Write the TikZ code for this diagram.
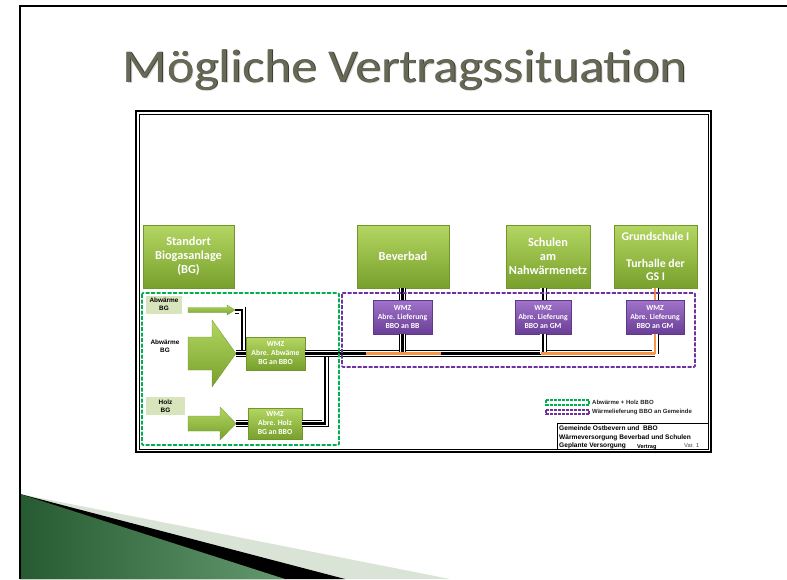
\documentclass[tikz,border=0pt]{standalone}
\usepackage{fontspec}
\setmainfont{Carlito}
\newfontfamily\arialfont{Liberation Sans}
\usetikzlibrary{shadows}

\definecolor{boxgreentop}{RGB}{180,214,98}
\definecolor{boxgreenbot}{RGB}{120,160,44}
\definecolor{boxgreenline}{RGB}{112,150,44}
\definecolor{boxpurpletop}{RGB}{160,116,202}
\definecolor{boxpurplebot}{RGB}{106,62,150}
\definecolor{boxpurpleline}{RGB}{96,56,138}
\definecolor{labelgreen}{RGB}{216,228,188}
\definecolor{dashgreen}{RGB}{0,176,80}
\definecolor{dashpurple}{RGB}{112,48,160}
\definecolor{pipeorange}{RGB}{247,150,70}
\definecolor{titlegray}{RGB}{104,104,86}
\definecolor{titleshade}{RGB}{60,60,48}
\definecolor{wedgedark}{RGB}{38,90,48}
\definecolor{wedgelight}{RGB}{100,152,110}
\definecolor{wedgepale}{RGB}{218,228,214}

\tikzset{
    site/.style={
        draw=boxgreenline, line width=0.4pt,
        top color=boxgreentop, bottom color=boxgreenbot,
        text=white, align=center, inner sep=1pt,
        font=\bfseries\fontsize{12.3}{14}\selectfont,
        drop shadow={opacity=0.2, shadow xshift=1pt, shadow yshift=-1pt}
    },
    wmzgreen/.style={
        site,
        font=\bfseries\fontsize{7.7}{9}\selectfont
    },
    wmzpurple/.style={
        wmzgreen,
        draw=boxpurpleline,
        top color=boxpurpletop, bottom color=boxpurplebot
    },
    sourcelabel/.style={
        fill=labelgreen, inner sep=0pt, align=center,
        font=\arialfont\bfseries\fontsize{6.4}{8}\selectfont
    },
    heat arrow/.style={
        draw=boxgreenline, line width=0.3pt,
        top color=boxgreentop, bottom color=boxgreenbot
    },
    pipe/.style={
        draw=black, line width=2.6pt,
        preaction={draw=black, line width=7pt},
        preaction={draw=white, line width=5.6pt}
    },
    pipe orange/.style={pipe, draw=pipeorange},
    pipecore/.style={draw=pipeorange, line width=2.6pt},
    groupbox/.style={line width=1.6pt, dash pattern=on 4pt off 1.5pt, rounded corners=1pt},
    legendbar/.style={line width=2pt, dash pattern=on 3pt off 1pt},
    legendtext/.style={anchor=west, inner sep=0pt, font=\arialfont\bfseries\fontsize{6}{7}\selectfont, text=black!85},
    blocktext/.style={anchor=base west, inner sep=0pt, font=\arialfont\bfseries\fontsize{6.6}{8}\selectfont},
    titletext/.style={anchor=base, xscale=1.1, font=\fontsize{47}{50}\selectfont}
}

\begin{document}
\begin{tikzpicture}[x=1pt, y=-1pt]
    \useasboundingbox (0,0) rectangle (787,579);

    % slide background
    \fill[wedgepale] (20,494) -- (450,579) -- (20,579) -- cycle;
    \fill[black] (20,494) -- (345,579) -- (20,579) -- cycle;
    \shade[left color=wedgedark, right color=wedgelight] (20,494) -- (285,579) -- (20,579) -- cycle;
    \draw[line width=1.6pt] (20,579) -- (20,6) -- (787,6);

    % title
    \node[titletext, text=black!15] at (406.5,83.5) {Mögliche Vertragssituation};
    \node[titletext, text=titleshade] at (405.8,82.8) {Mögliche Vertragssituation};
    \node[titletext, text=titlegray] (title) at (405,82) {Mögliche Vertragssituation};

    % drawing frame
    \draw[line width=1.2pt] (136,111) rectangle (711,452);
    \draw[line width=0.7pt] (139,114) rectangle (708,449);
    \draw[line width=0.7pt] (557,449) -- (557,423) -- (708,423);

    % sites
    \node[site, minimum width=91pt, minimum height=63pt] (bg) at (188.5,256.5) {Standort\\Biogasanlage\\(BG)};
    \node[site, minimum width=92pt, minimum height=63pt] (bb) at (403,256.5) {Beverbad};
    \node[site, minimum width=84pt, minimum height=63pt] (sn) at (548,256.5) {Schulen\\am\\Nahwärmenetz};
    \node[site, minimum width=83pt, minimum height=63pt, font=\bfseries\fontsize{11.8}{13.2}\selectfont] (gs) at (655.5,256.5) {Grundschule I\\[13.2pt]Turhalle der\\GS I};

    % heat sources
    \node[sourcelabel, minimum width=36pt, minimum height=18pt] (labw) at (164,304.5) {Abwärme\\BG};
    \node[sourcelabel, fill=none] (labw2) at (165,346.5) {Abwärme\\BG};
    \node[sourcelabel, minimum width=39pt, minimum height=18pt] (lholz) at (165.5,406) {Holz\\BG};

    \path[heat arrow] (188,307.5) -- (227,307.5) -- (227,305) -- (235,310) -- (227,315) -- (227,312.5) -- (188,312.5) -- cycle;
    \path[heat arrow] (188,337) -- (212,337) -- (212,320) -- (236,353.5) -- (212,387) -- (212,370) -- (188,370) -- cycle;
    \path[heat arrow] (188,416) -- (220,416) -- (220,407) -- (236,423.5) -- (220,440) -- (220,431) -- (188,431) -- cycle;
    \coordinate (tipthin) at (235,310);
    \coordinate (tipabw) at (236,353.5);
    \coordinate (tipholz) at (236,423.5);

    % meters
    \node[wmzgreen, minimum width=59pt, minimum height=33pt] (wmzabw) at (275.5,353.5) {WMZ\\Abre. Abwäme\\BG an BBO};
    \node[wmzgreen, minimum width=54pt, minimum height=31pt] (wmzholz) at (275,423.5) {WMZ\\Abre. Holz\\BG an BBO};
    \node[wmzpurple, minimum width=59pt, minimum height=34pt] (wmzbb) at (402.5,317) {WMZ\\Abre. Lieferung\\BBO an BB};
    \node[wmzpurple, minimum width=56pt, minimum height=34pt] (wmzsn) at (543,317) {WMZ\\Abre. Lieferung\\BBO an GM};
    \node[wmzpurple, minimum width=58pt, minimum height=34pt] (wmzgs) at (655,317) {WMZ\\Abre. Lieferung\\BBO an GM};

    \coordinate (jabw) at (242,353.5);
    \coordinate (jholz) at (325,353.5);
    \coordinate (jbb) at (wmzbb.south |- jabw);
    \coordinate (jsn) at (wmzsn.south |- jabw);
    \coordinate (jgs) at (wmzgs.south |- jabw);

    % pipes
    \draw[pipe] (tipthin) -| (jabw);
    \draw[pipe] (tipabw) -- (wmzabw.west);
    \draw[pipe] (tipholz) -- (wmzholz.west);
    \draw[pipe] (wmzholz.east) -| (jholz);
    \draw[pipe] (wmzabw.east) -- (jgs);
    \draw[pipe] (wmzbb.south) -- (jbb);
    \draw[pipe] (wmzbb.north) -- (wmzbb.north |- bb.south);
    \draw[pipe] (wmzsn.south) -- (jsn);
    \draw[pipe] (wmzsn.north) -- (wmzsn.north |- sn.south);
    \draw[pipe orange] (wmzgs.south) -- (jgs);
    \draw[pipe orange] (wmzgs.north) -- (wmzgs.north |- gs.south);
    \draw[pipecore] (366,353.5) -- (441,353.5);
    \draw[pipecore] (541,353.5) -- (jgs);

    % supply areas
    \draw[groupbox, draw=dashgreen] (142,293) rectangle (339,445);
    \draw[groupbox, draw=dashpurple] (342,293) rectangle (695,367);

    % legend
    \draw[legendbar, draw=dashgreen] (546,400) rectangle (589,404.5);
    \node[legendtext] (leggreen) at (592,402.5) {Abwärme + Holz BBO};
    \draw[legendbar, draw=dashpurple] (546,409.5) rectangle (589,414);
    \node[legendtext] (legpurple) at (592,412) {Wärmelieferung BBO an Gemeinde};

    % title block
    \node[blocktext] (line1) at (559,430.5) {Gemeinde Ostbevern und\ \ BBO};
    \node[blocktext] (line2) at (559,439.5) {Wärmeversorgung Beverbad und Schulen};
    \node[blocktext] (line3) at (559,447.5) {Geplante Versorgung};
    \node[blocktext, font=\arialfont\bfseries\fontsize{5.6}{7}\selectfont] (vertrag) at (637,448.5) {Vertrag};
    \node[blocktext, font=\arialfont\fontsize{5.8}{7}\selectfont, text=black!70] (variante) at (684,447.5) {Var. 1};
\end{tikzpicture}
\end{document}
